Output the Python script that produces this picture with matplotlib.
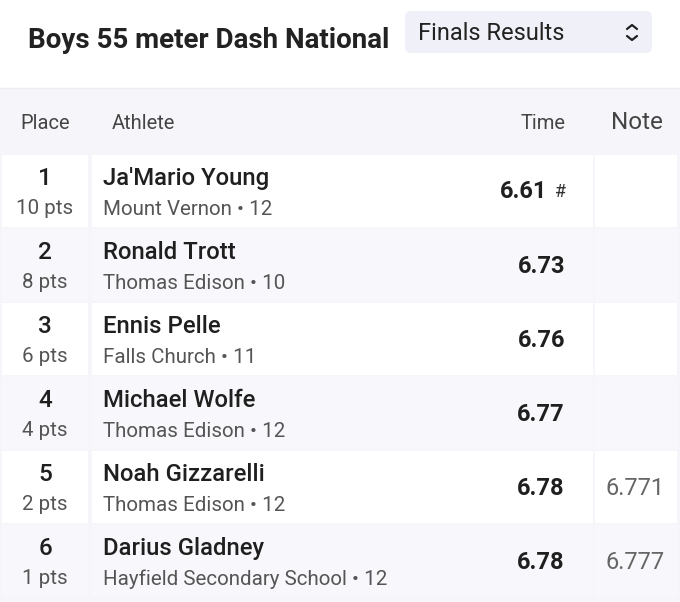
import matplotlib.pyplot as plt
from matplotlib.patches import Rectangle, FancyBboxPatch

plt.rcParams["font.family"] = ["Roboto", "DejaVu Sans"]

title = "Boys 55 meter Dash National"
dropdown = "Finals Results"
headers = ["Place", "Athlete", "Time", "Note"]

places = [1, 2, 3, 4, 5, 6]
points = [10, 8, 6, 4, 2, 1]
athletes = ["Ja'Mario Young", "Ronald Trott", "Ennis Pelle", "Michael Wolfe",
            "Noah Gizzarelli", "Darius Gladney"]
schools = ["Mount Vernon", "Thomas Edison", "Falls Church", "Thomas Edison",
           "Thomas Edison", "Hayfield Secondary School"]
grades = [12, 10, 11, 12, 12, 12]
times = [6.61, 6.73, 6.76, 6.77, 6.78, 6.78]
marks = ["#", "", "", "", "", ""]
notes = ["", "", "", "", "6.771", "6.777"]

W, H = 680, 602
fig = plt.figure(figsize=(W / 100, H / 100), dpi=100)
ax = fig.add_axes([0, 0, 1, 1])
ax.set_xlim(0, W)
ax.set_ylim(H, 0)
ax.axis("off")

# title and dropdown
ax.text(28, 48, title, fontsize=20, fontweight="bold", color="#222222", va="baseline")
ax.add_patch(FancyBboxPatch((405, 11), 247, 42, boxstyle="round,pad=0,rounding_size=6",
                            fc="#f0f0f8", ec="none"))
ax.text(418, 40, dropdown, fontsize=17, color="#222222", va="baseline")
ax.plot([627, 632, 637], [29, 25, 29], color="#222222", lw=1.6, solid_capstyle="round")
ax.plot([627, 632, 637], [36, 40, 36], color="#222222", lw=1.6, solid_capstyle="round")

# table background + header
bg = "#f6f6fa"
ax.add_patch(Rectangle((0, 88), W, H - 88, fc=bg, ec="none"))
ax.plot([0, W], [88, 88], color="#ececf1", lw=1)
hc = "#444444"
ax.text(45, 129, headers[0], fontsize=14.5, color=hc, ha="center", va="baseline")
ax.text(112, 129, headers[1], fontsize=14.5, color=hc, va="baseline")
ax.text(566, 129, headers[2], fontsize=14.5, color=hc, ha="right", va="baseline")
ax.text(637, 129, headers[3], fontsize=17.5, color=hc, ha="center", va="baseline")

# rows
top0, pitch, rh = 155, 74, 72
for i in range(len(places)):
    top = top0 + pitch * i
    fc = "white" if i % 2 == 0 else "#f8f8fc"
    ax.add_patch(Rectangle((2, top), 86, rh, fc=fc, ec="none"))
    ax.add_patch(Rectangle((92, top), 501, rh, fc=fc, ec="none"))
    ax.add_patch(Rectangle((595, top), 82, rh, fc=fc, ec="none"))

    ax.text(45, top + 30, str(places[i]), fontsize=17.5, fontweight="medium",
            color="#1f1f1f", ha="center", va="baseline")
    ax.text(45, top + 59, f"{points[i]} pts", fontsize=14.8, color="#555555",
            ha="center", va="baseline")
    ax.text(103, top + 30, athletes[i], fontsize=17.2, fontweight="medium",
            color="#1f1f1f", va="baseline")
    ax.text(103, top + 60, f"{schools[i]} \u2022 {grades[i]}", fontsize=14.8,
            color="#555555", va="baseline")
    if marks[i]:
        ax.text(547, top + 43, f"{times[i]:.2f}", fontsize=17, fontweight="bold",
                color="#1f1f1f", ha="right", va="baseline")
        ax.text(555, top + 42, marks[i], fontsize=13, color="#333333", va="baseline")
    else:
        ax.text(565, top + 44, f"{times[i]:.2f}", fontsize=17, fontweight="bold",
                color="#1f1f1f", ha="right", va="baseline")
    if notes[i]:
        ax.text(665, top + 44, notes[i], fontsize=17, color="#666666",
                ha="right", va="baseline")

fig.savefig("out.png", dpi=100)
